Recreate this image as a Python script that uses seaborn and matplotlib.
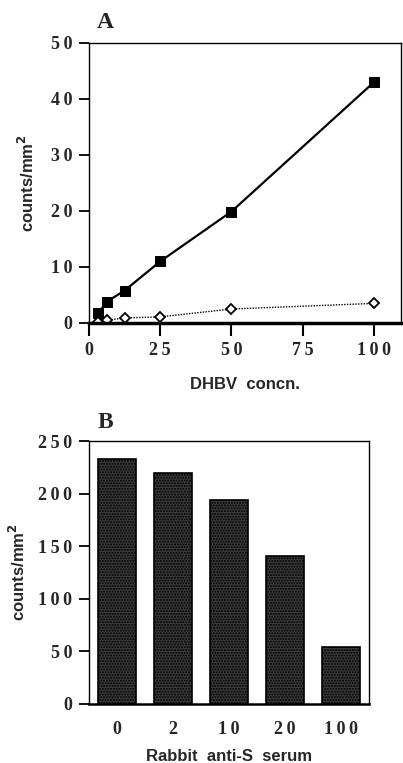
import numpy as np
import pandas as pd
import matplotlib
matplotlib.use("Agg")
import matplotlib.pyplot as plt
import seaborn as sns
from matplotlib.font_manager import FontProperties
from matplotlib.ticker import FuncFormatter

# Panel A: binding vs DHBV concentration
dhbv_conc = [3.125, 6.25, 12.5, 25, 50, 100]
counts_filled = [1.7, 3.8, 5.8, 11.0, 19.9, 43.0]
counts_open = [0.1, 0.5, 0.9, 1.1, 2.5, 3.5]
a_xticks = [0, 25, 50, 75, 100]
a_yticks = [0, 10, 20, 30, 40, 50]

# Panel B: binding vs rabbit anti-S serum
serum_labels = ["0", "2", "10", "20", "100"]
serum_counts = [233, 220, 194, 141, 54]
b_yticks = [0, 50, 100, 150, 200, 250]

sns.set_style("ticks")
plt.rcParams["font.family"] = ["Liberation Serif", "DejaVu Serif"]
plt.rcParams["hatch.color"] = "#5a5a5a"

tick_fp = FontProperties(family=["Liberation Serif", "DejaVu Serif"], weight="bold", size=13)
label_font = dict(family="Liberation Sans", weight="bold", size=12)
panel_font = dict(family="Liberation Serif", weight="bold", size=17)

W, H = 403, 763
fig = plt.figure(figsize=(W / 100, H / 100), dpi=100)


def px_axes(left, top, right, bottom):
    return fig.add_axes([left / W, 1 - bottom / H, (right - left) / W, (bottom - top) / H])


def spaced(s):
    # the original typesetting spreads the digits apart
    return "\u2009".join(str(s))


def style_axes(ax):
    for s in ax.spines.values():
        s.set_color("black")
        s.set_linewidth(1.0)
    ax.spines["bottom"].set_linewidth(2.5)
    ax.tick_params(axis="both", direction="out", color="black", width=1.3, length=7, pad=5)
    for lab in ax.get_xticklabels() + ax.get_yticklabels():
        lab.set_fontproperties(tick_fp)


# ---- Panel A ----
axA = px_axes(89, 43, 401, 323)
df_a = pd.DataFrame({"conc": dhbv_conc, "filled": counts_filled, "open": counts_open})
sns.lineplot(data=df_a, x="conc", y="filled", ax=axA, color="black", lw=1.6,
             marker="s", markersize=7.5, markerfacecolor="black", markeredgecolor="black")
sns.lineplot(data=df_a, x="conc", y="open", ax=axA, color="black", lw=1.0, linestyle=(0, (1, 1)),
             marker="D", markersize=5, markerfacecolor="white", markeredgecolor="black",
             markeredgewidth=1.3)
axA.set_xlim(0, 109.5)
axA.set_ylim(0, 50)
axA.set_xticks(a_xticks)
axA.set_yticks(a_yticks)
axA.xaxis.set_major_formatter(FuncFormatter(lambda v, p: spaced(int(v))))
axA.yaxis.set_major_formatter(FuncFormatter(lambda v, p: spaced(int(v))))
axA.set_xlabel("DHBV  concn.", fontdict=label_font, labelpad=13)
axA.set_ylabel("counts/mm$^\\mathbf{2}$", fontdict=label_font, labelpad=10)
style_axes(axA)
axA.tick_params(axis="x", length=9, width=1.5)
fig.text(105 / W, 1 - 22 / H, "A", ha="center", va="center", **panel_font)

# ---- Panel B ----
axB = px_axes(89, 441, 369, 704)
df_b = pd.DataFrame({"serum": serum_labels, "counts": serum_counts})
sns.barplot(data=df_b, x="serum", y="counts", ax=axB, color="#3b3b3b",
            edgecolor="black", linewidth=1.2, width=0.67, saturation=1)
for p in axB.patches:
    p.set_hatch("......")
    p.set_edgecolor("black")
axB.set_xlim(-0.5, 4.5)
axB.set_ylim(0, 250)
axB.set_yticks(b_yticks)
axB.set_xticks(range(len(serum_labels)))
axB.set_xticklabels([spaced(s) for s in serum_labels])
axB.yaxis.set_major_formatter(FuncFormatter(lambda v, p: spaced(int(v))))
axB.set_xlabel("Rabbit  anti-S  serum", fontdict=label_font, labelpad=8)
axB.set_ylabel("counts/mm$^\\mathbf{2}$", fontdict=label_font, labelpad=7)
style_axes(axB)
axB.spines["bottom"].set_linewidth(1.8)
axB.tick_params(axis="x", length=0, pad=12)
fig.text(105 / W, 1 - 423 / H, "B", ha="center", va="center", **panel_font)

fig.savefig("out.png", dpi=100)
